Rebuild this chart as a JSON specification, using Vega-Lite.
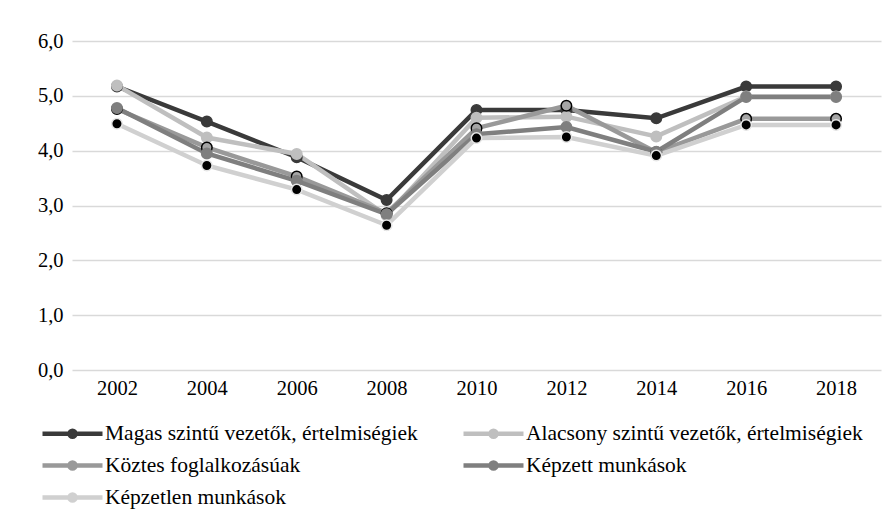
{
  "$schema": "https://vega.github.io/schema/vega-lite/v6.json",
  "width": 809,
  "height": 329,
  "autosize": "none",
  "padding": {"left": 72, "top": 41, "right": 13, "bottom": 153},
  "background": "white",
  "config": {
    "font": "Liberation Serif",
    "view": {"stroke": null},
    "axis": {"labelFont": "Liberation Serif", "labelFontSize": 20.5, "labelColor": "#000000", "title": null, "domain": false, "ticks": false}
  },
  "data": {
    "values": [
      {"series": "Magas szintű vezetők, értelmiségiek", "year": "2002", "value": 5.17},
      {"series": "Magas szintű vezetők, értelmiségiek", "year": "2004", "value": 4.53},
      {"series": "Magas szintű vezetők, értelmiségiek", "year": "2006", "value": 3.88},
      {"series": "Magas szintű vezetők, értelmiségiek", "year": "2008", "value": 3.10},
      {"series": "Magas szintű vezetők, értelmiségiek", "year": "2010", "value": 4.74},
      {"series": "Magas szintű vezetők, értelmiségiek", "year": "2012", "value": 4.74},
      {"series": "Magas szintű vezetők, értelmiségiek", "year": "2014", "value": 4.59},
      {"series": "Magas szintű vezetők, értelmiségiek", "year": "2016", "value": 5.17},
      {"series": "Magas szintű vezetők, értelmiségiek", "year": "2018", "value": 5.17},
      {"series": "Alacsony szintű vezetők, értelmiségiek", "year": "2002", "value": 5.19},
      {"series": "Alacsony szintű vezetők, értelmiségiek", "year": "2004", "value": 4.24},
      {"series": "Alacsony szintű vezetők, értelmiségiek", "year": "2006", "value": 3.94},
      {"series": "Alacsony szintű vezetők, értelmiségiek", "year": "2008", "value": 2.82},
      {"series": "Alacsony szintű vezetők, értelmiségiek", "year": "2010", "value": 4.6},
      {"series": "Alacsony szintű vezetők, értelmiségiek", "year": "2012", "value": 4.62},
      {"series": "Alacsony szintű vezetők, értelmiségiek", "year": "2014", "value": 4.26},
      {"series": "Alacsony szintű vezetők, értelmiségiek", "year": "2016", "value": 4.99},
      {"series": "Alacsony szintű vezetők, értelmiségiek", "year": "2018", "value": 4.99},
      {"series": "Köztes foglalkozásúak", "year": "2002", "value": 4.76},
      {"series": "Köztes foglalkozásúak", "year": "2004", "value": 4.06},
      {"series": "Köztes foglalkozásúak", "year": "2006", "value": 3.53},
      {"series": "Köztes foglalkozásúak", "year": "2008", "value": 2.86},
      {"series": "Köztes foglalkozásúak", "year": "2010", "value": 4.41},
      {"series": "Köztes foglalkozásúak", "year": "2012", "value": 4.82},
      {"series": "Köztes foglalkozásúak", "year": "2014", "value": 3.97},
      {"series": "Köztes foglalkozásúak", "year": "2016", "value": 4.58},
      {"series": "Köztes foglalkozásúak", "year": "2018", "value": 4.58},
      {"series": "Képzett munkások", "year": "2002", "value": 4.78},
      {"series": "Képzett munkások", "year": "2004", "value": 3.95},
      {"series": "Képzett munkások", "year": "2006", "value": 3.45},
      {"series": "Képzett munkások", "year": "2008", "value": 2.84},
      {"series": "Képzett munkások", "year": "2010", "value": 4.3},
      {"series": "Képzett munkások", "year": "2012", "value": 4.43},
      {"series": "Képzett munkások", "year": "2014", "value": 3.98},
      {"series": "Képzett munkások", "year": "2016", "value": 4.98},
      {"series": "Képzett munkások", "year": "2018", "value": 4.98},
      {"series": "Képzetlen munkások", "year": "2002", "value": 4.49},
      {"series": "Képzetlen munkások", "year": "2004", "value": 3.73},
      {"series": "Képzetlen munkások", "year": "2006", "value": 3.29},
      {"series": "Képzetlen munkások", "year": "2008", "value": 2.64},
      {"series": "Képzetlen munkások", "year": "2010", "value": 4.23},
      {"series": "Képzetlen munkások", "year": "2012", "value": 4.25},
      {"series": "Képzetlen munkások", "year": "2014", "value": 3.91},
      {"series": "Képzetlen munkások", "year": "2016", "value": 4.47},
      {"series": "Képzetlen munkások", "year": "2018", "value": 4.47}
    ]
  },
  "layer": [
    {
      "mark": {"type": "line", "strokeWidth": 4.5},
      "encoding": {
        "x": {"field": "year", "type": "ordinal", "axis": {"labelAngle": 0, "grid": false, "labelPadding": 8}},
        "y": {
          "field": "value", "type": "quantitative",
          "scale": {"domain": [0, 6]},
          "axis": {"values": [0, 1, 2, 3, 4, 5, 6], "labelExpr": "replace(format(datum.value, '.1f'), '.', ',')", "gridColor": "#d9d9d9", "gridWidth": 1.5, "labelPadding": 9}
        },
        "color": {
          "field": "series", "type": "nominal",
          "scale": {
            "domain": ["Magas szintű vezetők, értelmiségiek", "Alacsony szintű vezetők, értelmiségiek", "Köztes foglalkozásúak", "Képzett munkások", "Képzetlen munkások"],
            "range": ["#3a3a3a", "#bfbfbf", "#999999", "#7f7f7f", "#d0d0d0"]
          },
          "legend": {
            "title": null, "orient": "none", "legendX": -32, "legendY": 375, "columns": 2, "direction": "horizontal",
            "symbolType": "M-2,0H2M-0.2,0A0.2,0.2,0,1,1,0.2,0A0.2,0.2,0,1,1,-0.2,0Z",
            "symbolSize": 900, "symbolStrokeWidth": 4.5, "symbolOffset": 15,
            "labelFont": "Liberation Serif", "labelFontSize": 21.5, "labelColor": "#000000", "labelOffset": 15, "labelLimit": 0,
            "columnPadding": 36, "rowPadding": 2,
            "encode": {"symbols": {"update": {"fill": {"scale": "color", "field": "value"}}}}
          }
        }
      }
    },
    {
      "mark": {"type": "circle", "opacity": 1, "strokeWidth": 1.5, "size": 110},
      "encoding": {
        "x": {"field": "year", "type": "ordinal"},
        "y": {"field": "value", "type": "quantitative"},
        "fill": {
          "field": "series", "type": "nominal", "legend": null,
          "scale": {
            "domain": ["Magas szintű vezetők, értelmiségiek", "Alacsony szintű vezetők, értelmiségiek", "Köztes foglalkozásúak", "Képzett munkások", "Képzetlen munkások"],
            "range": ["#3a3a3a", "#bfbfbf", "#a5a5a5", "#7f7f7f", "#000000"]
          }
        },
        "stroke": {
          "field": "series", "type": "nominal", "legend": null,
          "scale": {
            "domain": ["Magas szintű vezetők, értelmiségiek", "Alacsony szintű vezetők, értelmiségiek", "Köztes foglalkozásúak", "Képzett munkások", "Képzetlen munkások"],
            "range": ["#3a3a3a", "#bfbfbf", "#000000", "#7f7f7f", "#e6e6e6"]
          }
        }
      }
    }
  ]
}
